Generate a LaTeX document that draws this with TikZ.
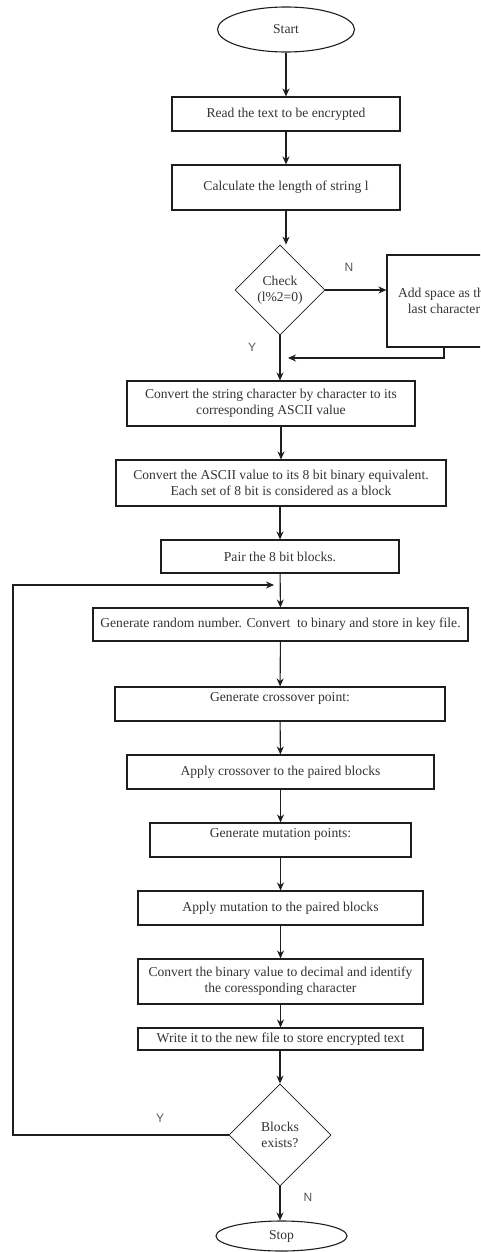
\documentclass[tikz,border=0pt]{standalone}
\usepackage{fontspec}
\setmainfont{Liberation Serif}
\newfontfamily\yesnofont{Liberation Sans}
\usepackage{xcolor}
\definecolor{inkline}{HTML}{1E1E1E}
\definecolor{inktext}{HTML}{333333}
\definecolor{yesno}{HTML}{555555}
\usetikzlibrary{arrows.meta,shapes.geometric}

\begin{document}
\begin{tikzpicture}[x=1pt,y=-1pt,
  every node/.style={font=\fontsize{13.6}{16}\selectfont,text=inktext},
  procbox/.style={draw=inkline,line width=1.1pt,inner sep=0pt,align=center},
  termnode/.style={draw=inkline,line width=1.1pt,ellipse,inner sep=0pt},
  decnode/.style={draw=inkline,line width=0.8pt,diamond,inner sep=0pt,align=center},
  flow/.style={draw=inkline,line width=1.1pt,-{Stealth[length=8pt,width=7pt]}},
  yn/.style={font=\yesnofont\fontsize{12}{14}\selectfont,text=yesno}]
  \useasboundingbox (0,0) rectangle (480,1252);
  \clip (0,0) rectangle (480,1252);

  % Terminals
  \node[termnode,minimum width=137pt,minimum height=45pt] (start) at (286,29.5) {Start};
  \node[termnode,minimum width=131pt,minimum height=30pt] (stop) at (281.5,1236) {Stop};

  % Steps
  \node[procbox,minimum width=228pt,minimum height=34pt] (read) at (286,114) {Read the text to be encrypted};
  \node[procbox,minimum width=228pt,minimum height=45pt] (calc) at (286,187.5) {Calculate the length of string l};
  \node[decnode,minimum width=90pt,minimum height=90pt] (check) at (280,290) {Check\\(l\%2=0)};
  \node[procbox,minimum width=114pt,minimum height=92pt] (addsp) at (444,301) {Add space as the\\last character};
  \node[procbox,minimum width=288pt,minimum height=45pt] (conv) at (271,403.5) {Convert the string character by character to its\\corresponding ASCII value};
  \node[procbox,minimum width=330pt,minimum height=46pt] (ascii) at (281,483) {Convert the ASCII value to its 8 bit binary equivalent.\\Each set of 8 bit is considered as a block};
  \node[procbox,minimum width=238pt,minimum height=33pt] (pair) at (280,556.5) {Pair the 8 bit blocks.};
  \node[procbox,minimum width=375pt,minimum height=33pt] (rand) at (280.5,624.5) {Generate random number. Convert\ \ to binary and store in key file.};
  \node[procbox,minimum width=330pt,text height=14pt,text depth=20pt] (cross) at (280,704) {Generate crossover point:};
  \node[procbox,minimum width=307pt,minimum height=34pt] (apcross) at (280.5,772) {Apply crossover to the paired blocks};
  \node[procbox,minimum width=261pt,text height=14pt,text depth=20pt] (mutpts) at (280.5,840) {Generate mutation points:};
  \node[procbox,minimum width=285pt,minimum height=34pt] (apmut) at (280.5,908) {Apply mutation to the paired blocks};
  \node[procbox,minimum width=285pt,minimum height=45pt] (tochar) at (280.5,981.5) {Convert the binary value to decimal and identify\\the coressponding character};
  \node[procbox,minimum width=285pt,minimum height=22pt] (write) at (280.5,1039) {Write it to the new file to store encrypted text};
  \node[decnode,minimum width=102pt,minimum height=102pt] (blocks) at (280,1135) {Blocks\\exists?};

  % Joins
  \coordinate (merge) at (288,358);
  \coordinate (loopin) at (274,585);
  \coordinate (loopcorner) at (13,1135);

  % Main flow
  \draw[flow] (start.south) -- (read.north);
  \draw[flow] (read) -- (calc);
  \draw[flow] (calc.south) -- (calc.south |- check.north);
  \draw[flow] (check.east) -- (check.east -| addsp.west);
  \draw[flow] (addsp.south) |- (merge);
  \draw[flow] (check.south) -- (check.south |- conv.north);
  \draw[flow] (ascii.north |- conv.south) -- (ascii.north);
  \draw[flow] (ascii.south -| pair.north) -- (pair.north);
  \draw[flow] (pair) -- (rand);
  \draw[flow] (rand) -- (cross);
  \draw[flow] (cross) -- (apcross);
  \draw[flow] (apcross) -- (mutpts);
  \draw[flow] (mutpts) -- (apmut);
  \draw[flow] (apmut) -- (tochar);
  \draw[flow] (tochar) -- (write);
  \draw[flow] (write.south -| blocks.north) -- (blocks.north);
  \draw[flow] (blocks.south) -- (blocks.south |- stop.north);

  % Loop back
  \draw[flow] (blocks.west) -- (loopcorner) |- (loopin);

  % Labels
  \node[yn] (ncheck) at (349,267) {N};
  \node[yn] (ycheck) at (252,347) {Y};
  \node[yn] (yblocks) at (160,1118) {Y};
  \node[yn] (nblocks) at (308,1197) {N};
\end{tikzpicture}
\end{document}
